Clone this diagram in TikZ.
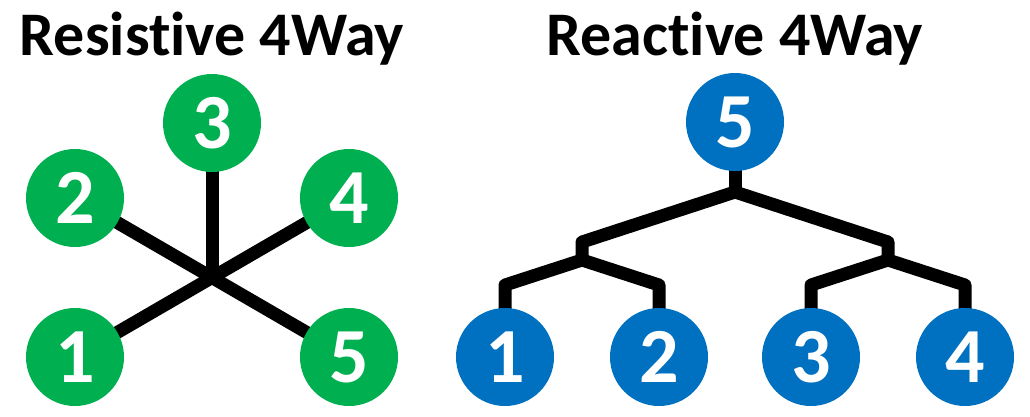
\documentclass[tikz,border=0pt]{standalone}
\usepackage{fontspec}
\setmainfont{Carlito}[Ligatures=NoCommon]
\usetikzlibrary{backgrounds}
\definecolor{rgreen}{HTML}{00B050}
\definecolor{rblue}{HTML}{0070C0}
\begin{document}
\begin{tikzpicture}[x=1pt,y=-1pt,
  wire/.style={line width=13pt, line join=round, draw=black},
  ball/.style={circle, minimum size=98pt, inner sep=0pt, text=white,
    font=\fontsize{78}{78}\selectfont\bfseries},
  gball/.style={ball, fill=rgreen},
  bball/.style={ball, fill=rblue},
  title/.style={anchor=base, font=\fontsize{62}{62}\selectfont\bfseries}]
\useasboundingbox (0,0) rectangle (1030,416);
% titles
\node[title] (t1) at (212,55) {Resistive 4Way};
\node[title] (t2) at (735,55) {Reactive 4Way};
% left: resistive
\coordinate (hub) at (212,277);
\node[gball] (g3) at (212,123) {3};
\node[gball] (g2) at (75,198) {2};
\node[gball] (g4) at (349,198) {4};
\node[gball] (g1) at (75,357) {1};
\node[gball] (g5) at (349,357) {5};
% right: reactive
\node[bball] (b5) at (735,122) {5};
\node[bball] (b1) at (505,357) {1};
\node[bball] (b2) at (659,357) {2};
\node[bball] (b3) at (811,357) {3};
\node[bball] (b4) at (965,357) {4};
\coordinate (top) at (735,192);
\coordinate (lu) at (582,242);
\coordinate (ld) at (582,260);
\coordinate (ru) at (888,242);
\coordinate (rd) at (888,260);
\coordinate (c1) at (505,285);
\coordinate (c2) at (659,285);
\coordinate (c3) at (811,285);
\coordinate (c4) at (965,285);
\begin{scope}[on background layer]
\draw[wire] (g3.center) -- (hub);
\draw[wire] (g2.center) -- (g5.center);
\draw[wire] (g4.center) -- (g1.center);
\draw[wire] (b5.center) -- (top);
\draw[wire] (b1.center) -- (c1) -- (ld) -- (lu) -- (top) -- (ru) -- (rd) -- (c4) -- (b4.center);
\draw[wire] (b2.center) -- (c2) -- (ld);
\draw[wire] (b3.center) -- (c3) -- (rd);
\end{scope}
\end{tikzpicture}
\end{document}
